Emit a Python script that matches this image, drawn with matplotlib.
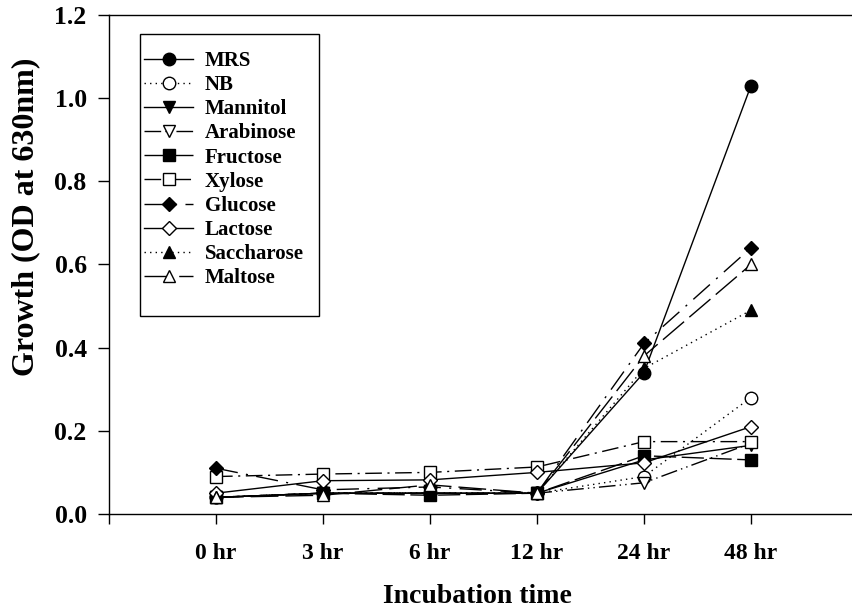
import matplotlib
matplotlib.use("Agg")
import matplotlib.pyplot as plt
from matplotlib.patches import Rectangle

# incubation times (categorical x positions 0..5)
times = ["0 hr", "3 hr", "6 hr", "12 hr", "24 hr", "48 hr"]

# OD at 630nm
mrs        = [0.04, 0.05, 0.05, 0.05, 0.34, 1.03]
nb         = [0.04, 0.05, 0.05, 0.05, 0.09, 0.28]
mannitol   = [0.04, 0.05, 0.05, 0.05, 0.13, 0.165]
arabinose  = [0.04, 0.05, 0.05, 0.05, 0.075, 0.17]
fructose   = [0.04, 0.05, 0.045, 0.05, 0.14, 0.13]
xylose     = [0.09, 0.096, 0.10, 0.113, 0.174, 0.174]
glucose    = [0.11, 0.058, 0.065, 0.05, 0.41, 0.64]
lactose    = [0.05, 0.08, 0.082, 0.10, 0.123, 0.21]
saccharose = [0.04, 0.05, 0.05, 0.05, 0.35, 0.49]
maltose    = [0.04, 0.045, 0.07, 0.05, 0.38, 0.60]

plt.rcParams['font.family'] = ['Liberation Serif', 'DejaVu Serif']
plt.rcParams['font.weight'] = 'bold'

fig = plt.figure(figsize=(8.52, 6.11), dpi=100)
ax = fig.add_axes([0.1279, 0.1588, 0.8791, 0.8167])

x = list(range(len(times)))
ms = 9
lw = 1.0

# name, data, marker, filled, linestyle
series = [
    ("MRS", mrs, "o", True, "-"),
    ("NB", nb, "o", False, (0, (1, 3))),
    ("Mannitol", mannitol, "v", True, "-"),
    ("Arabinose", arabinose, "v", False, (0, (12, 3, 1, 3, 1, 3))),
    ("Fructose", fructose, "s", True, (0, (16, 4))),
    ("Xylose", xylose, "s", False, (0, (12, 4, 1.5, 4))),
    ("Glucose", glucose, "D", True, (0, (16, 6, 1.5, 6))),
    ("Lactose", lactose, "D", False, "-"),
    ("Saccharose", saccharose, "^", True, (0, (1, 3))),
    ("Maltose", maltose, "^", False, (0, (20, 5))),
]

for name, vals, mk, filled, ls in series:
    msize = ms - 1.5 if mk == "D" else ms
    if mk == "s":
        msize = ms - 1
    ax.plot(x, vals, linestyle=ls, color="black", linewidth=lw,
            marker=mk, markersize=msize,
            markerfacecolor="black" if filled else "white",
            markeredgecolor="black", markeredgewidth=1.0, label=name)

ax.set_xlim(-1, 6)
ax.set_ylim(0, 1.2)

ax.set_xticks(range(-1, 7))
ax.set_xticklabels([""] + times + [""])
ax.set_yticks([0.0, 0.2, 0.4, 0.6, 0.8, 1.0, 1.2])
ax.set_yticklabels(["%.1f" % v for v in [0.0, 0.2, 0.4, 0.6, 0.8, 1.0, 1.2]])

ax.tick_params(axis="x", direction="out", length=7, width=1, pad=14, labelsize=17)
ax.tick_params(axis="y", direction="out", length=8, width=1, pad=8, labelsize=18.5)

ax.spines["right"].set_visible(False)
for s in ["left", "bottom", "top"]:
    ax.spines[s].set_linewidth(1.0)

ax.set_xlabel("Incubation time", fontsize=20, fontweight="bold")
ax.xaxis.set_label_coords(0.4925, -0.14)
fig.text(0.03, 0.645, "Growth (OD at 630nm)", rotation=90, fontsize=23,
         fontweight="bold", ha="center", va="center")

# legend box drawn separately so the padding matches the original
ax.add_patch(Rectangle((0.0414, 0.3968), 0.239, 0.5652, transform=ax.transAxes,
                       facecolor="white", edgecolor="black", linewidth=1.0,
                       zorder=4))
leg = ax.legend(loc="upper left", bbox_to_anchor=(0.047, 0.928), borderaxespad=0,
                frameon=False, numpoints=1, fontsize=15, handlelength=2.35,
                handletextpad=0.55, labelspacing=0.2, borderpad=0)
leg.set_zorder(5)
for t in leg.get_texts():
    t.set_fontweight("bold")

fig.savefig("out.png", dpi=100)
